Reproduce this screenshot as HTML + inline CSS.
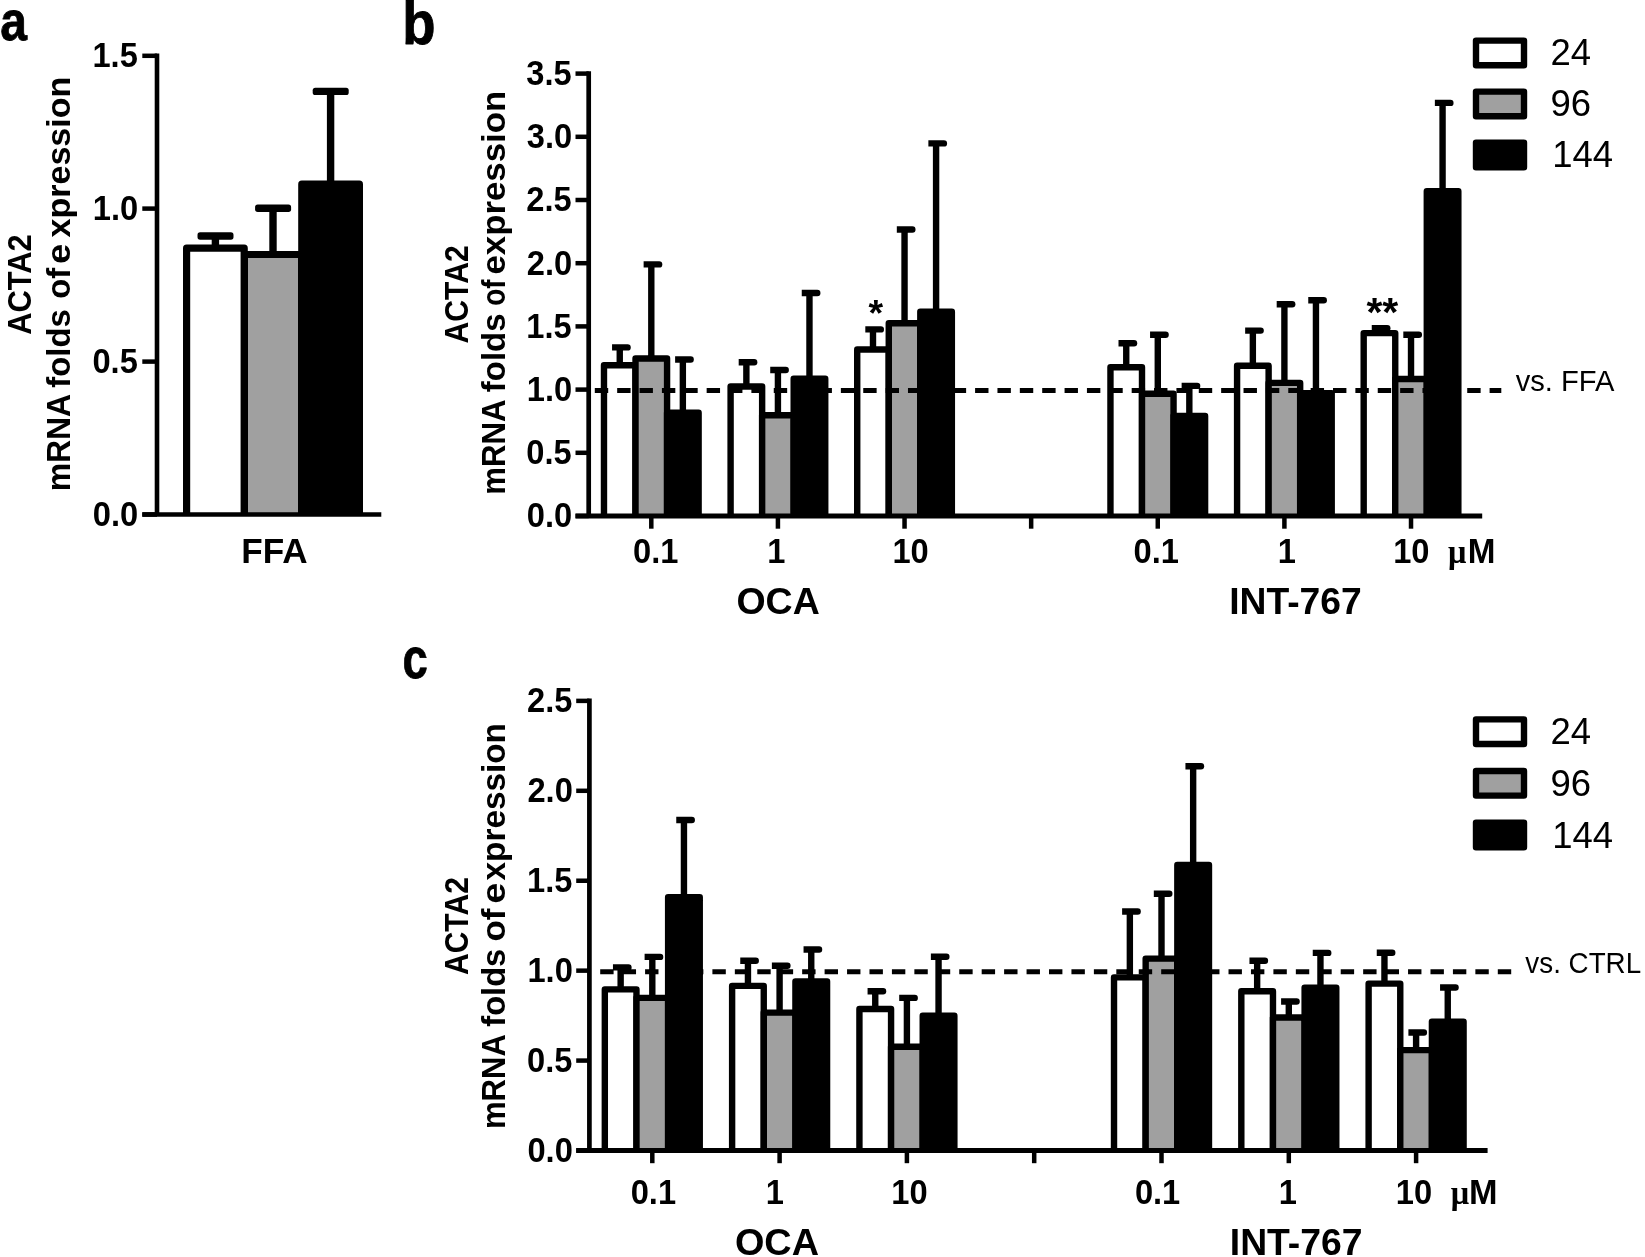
<!DOCTYPE html>
<html lang="en">
<head>
<meta charset="utf-8">
<title>ACTA2 mRNA folds of expression</title>
<style>
html,body{margin:0;padding:0;background:#fff;}
body{width:1645px;height:1257px;overflow:hidden;font-family:'Liberation Sans', Arial, sans-serif;}
svg{display:block;}
text{fill:#000;}
</style>
</head>
<body>
<svg width="1645" height="1257" viewBox="0 0 1645 1257">
<defs><filter id="soft" x="0" y="0" width="1645" height="1257" filterUnits="userSpaceOnUse"><feGaussianBlur stdDeviation="0.6"/></filter></defs>
<rect x="0" y="0" width="1645" height="1257" fill="#fff"/>
<g filter="url(#soft)">
<rect x="0" y="0" width="1645" height="1257" fill="#fff"/>
<g id="panel-a">
<path d="M244.2 514.5V254.5H301.8V514.5" fill="#a0a0a0" stroke="#000" stroke-width="7.2" stroke-linejoin="round"/>
<path d="M186.6 514.5V248.2H244.2V514.5" fill="#fff" stroke="#000" stroke-width="7.2" stroke-linejoin="round"/>
<path d="M301.8 514.5V184.2H359.4V514.5" fill="#000" stroke="#000" stroke-width="7.2" stroke-linejoin="round"/>
<path d="M215.4 245.6V236" stroke="#000" stroke-width="7.4" fill="none"/>
<rect x="197.5" y="232.3" width="36" height="7.4" rx="2.6" fill="#000"/>
<path d="M273 251.9V208.2" stroke="#000" stroke-width="7.4" fill="none"/>
<rect x="255.1" y="204.5" width="36" height="7.4" rx="2.6" fill="#000"/>
<path d="M330.6 181.6V91.4" stroke="#000" stroke-width="7.4" fill="none"/>
<rect x="312.7" y="87.7" width="36" height="7.4" rx="2.6" fill="#000"/>
<path d="M157 53.5V514.5" stroke="#000" stroke-width="4.6" fill="none"/>
<path d="M142.3 514.5H381.3" stroke="#000" stroke-width="4.5" fill="none"/>
<path d="M142.3 514.5H157" stroke="#000" stroke-width="4.5" fill="none"/>
<text transform="translate(92.84 525.8) scale(0.9220 1)" font-size="35.4" font-weight="bold" font-family="'Liberation Sans', Arial, sans-serif">0.0</text>
<path d="M142.3 361.6H157" stroke="#000" stroke-width="4.5" fill="none"/>
<text transform="translate(92.43 372.9) scale(0.9220 1)" font-size="35.4" font-weight="bold" font-family="'Liberation Sans', Arial, sans-serif">0.5</text>
<path d="M142.3 208.6H157" stroke="#000" stroke-width="4.5" fill="none"/>
<text transform="translate(92.84 219.9) scale(0.9220 1)" font-size="35.4" font-weight="bold" font-family="'Liberation Sans', Arial, sans-serif">1.0</text>
<path d="M142.3 55.8H157" stroke="#000" stroke-width="4.5" fill="none"/>
<text transform="translate(92.43 67.1) scale(0.9220 1)" font-size="35.4" font-weight="bold" font-family="'Liberation Sans', Arial, sans-serif">1.5</text>
<text transform="translate(241.23 563.4) scale(0.9792 1)" font-size="35.9" font-weight="bold" font-family="'Liberation Sans', Arial, sans-serif">FFA</text>
<text transform="translate(31.1 334.77) rotate(-90) scale(0.9340 1)" font-size="33" font-weight="bold" font-family="'Liberation Sans', Arial, sans-serif">ACTA2</text>
<text transform="translate(70.4 0) rotate(-90)" font-size="33" font-weight="bold" font-family="'Liberation Sans', Arial, sans-serif"><tspan x="-491.35" textLength="96.34" lengthAdjust="spacingAndGlyphs">mRNA</tspan> <tspan x="-387.78" textLength="78.53" lengthAdjust="spacingAndGlyphs">folds</tspan> <tspan x="-298.81" textLength="30.87" lengthAdjust="spacingAndGlyphs">of</tspan> <tspan x="-264.05" textLength="20.17" lengthAdjust="spacingAndGlyphs">e</tspan><tspan x="-237.46" textLength="160.76" lengthAdjust="spacingAndGlyphs">xpression</tspan></text>
<text transform="translate(0.36 40.2) scale(0.8647 1)" font-size="55.6" font-weight="bold" font-family="'Liberation Sans', Arial, sans-serif" stroke="#000" stroke-width="0.8" stroke-linejoin="round">a</text>
</g>
<g id="panel-b">
<path d="M603.98 516V365.2H635.52V516" fill="#fff" stroke="#000" stroke-width="6.4" stroke-linejoin="round"/>
<path d="M635.52 516V358.5H667.07V516" fill="#a0a0a0" stroke="#000" stroke-width="6.4" stroke-linejoin="round"/>
<path d="M667.07 516V412.8H698.62V516" fill="#000" stroke="#000" stroke-width="6.4" stroke-linejoin="round"/>
<path d="M619.75 363V347.4" stroke="#000" stroke-width="6.4" fill="none"/>
<path d="M612.05 344.2H627.55A3.2 3.2 0 0 1 627.55 350.6H612.05Z" fill="#000"/>
<path d="M651.3 356.3V264.4" stroke="#000" stroke-width="6.4" fill="none"/>
<path d="M643.6 261.2H659.1A3.2 3.2 0 0 1 659.1 267.6H643.6Z" fill="#000"/>
<path d="M682.85 410.6V359.5" stroke="#000" stroke-width="6.4" fill="none"/>
<path d="M675.15 356.3H690.65A3.2 3.2 0 0 1 690.65 362.7H675.15Z" fill="#000"/>
<path d="M730.6 516V386.5H762.14V516" fill="#fff" stroke="#000" stroke-width="6.4" stroke-linejoin="round"/>
<path d="M762.14 516V415.2H793.69V516" fill="#a0a0a0" stroke="#000" stroke-width="6.4" stroke-linejoin="round"/>
<path d="M793.69 516V378.7H825.24V516" fill="#000" stroke="#000" stroke-width="6.4" stroke-linejoin="round"/>
<path d="M746.37 384.3V362.2" stroke="#000" stroke-width="6.4" fill="none"/>
<path d="M738.67 359H754.17A3.2 3.2 0 0 1 754.17 365.4H738.67Z" fill="#000"/>
<path d="M777.92 413V370" stroke="#000" stroke-width="6.4" fill="none"/>
<path d="M770.22 366.8H785.72A3.2 3.2 0 0 1 785.72 373.2H770.22Z" fill="#000"/>
<path d="M809.47 376.5V293" stroke="#000" stroke-width="6.4" fill="none"/>
<path d="M801.77 289.8H817.27A3.2 3.2 0 0 1 817.27 296.2H801.77Z" fill="#000"/>
<path d="M857.22 516V349.5H888.76V516" fill="#fff" stroke="#000" stroke-width="6.4" stroke-linejoin="round"/>
<path d="M888.76 516V323.2H920.31V516" fill="#a0a0a0" stroke="#000" stroke-width="6.4" stroke-linejoin="round"/>
<path d="M920.31 516V311.6H951.86V516" fill="#000" stroke="#000" stroke-width="6.4" stroke-linejoin="round"/>
<path d="M872.99 347.3V329.4" stroke="#000" stroke-width="6.4" fill="none"/>
<path d="M865.29 326.2H880.79A3.2 3.2 0 0 1 880.79 332.6H865.29Z" fill="#000"/>
<path d="M904.54 321V229.5" stroke="#000" stroke-width="6.4" fill="none"/>
<path d="M896.84 226.3H912.34A3.2 3.2 0 0 1 912.34 232.7H896.84Z" fill="#000"/>
<path d="M936.09 309.4V143.4" stroke="#000" stroke-width="6.4" fill="none"/>
<path d="M928.39 140.2H943.89A3.2 3.2 0 0 1 943.89 146.6H928.39Z" fill="#000"/>
<path d="M1110.45 516V367.3H1142V516" fill="#fff" stroke="#000" stroke-width="6.4" stroke-linejoin="round"/>
<path d="M1142 516V393.8H1173.55V516" fill="#a0a0a0" stroke="#000" stroke-width="6.4" stroke-linejoin="round"/>
<path d="M1173.55 516V415.9H1205.1V516" fill="#000" stroke="#000" stroke-width="6.4" stroke-linejoin="round"/>
<path d="M1126.23 365.1V343.2" stroke="#000" stroke-width="6.4" fill="none"/>
<path d="M1118.53 340H1134.03A3.2 3.2 0 0 1 1134.03 346.4H1118.53Z" fill="#000"/>
<path d="M1157.78 391.6V334.8" stroke="#000" stroke-width="6.4" fill="none"/>
<path d="M1150.08 331.6H1165.58A3.2 3.2 0 0 1 1165.58 338H1150.08Z" fill="#000"/>
<path d="M1189.33 413.7V385.9" stroke="#000" stroke-width="6.4" fill="none"/>
<path d="M1181.63 382.7H1197.13A3.2 3.2 0 0 1 1197.13 389.1H1181.63Z" fill="#000"/>
<path d="M1237.08 516V365.8H1268.62V516" fill="#fff" stroke="#000" stroke-width="6.4" stroke-linejoin="round"/>
<path d="M1268.62 516V382.9H1300.17V516" fill="#a0a0a0" stroke="#000" stroke-width="6.4" stroke-linejoin="round"/>
<path d="M1300.17 516V393.3H1331.72V516" fill="#000" stroke="#000" stroke-width="6.4" stroke-linejoin="round"/>
<path d="M1252.85 363.6V330.6" stroke="#000" stroke-width="6.4" fill="none"/>
<path d="M1245.15 327.4H1260.65A3.2 3.2 0 0 1 1260.65 333.8H1245.15Z" fill="#000"/>
<path d="M1284.4 380.7V304.3" stroke="#000" stroke-width="6.4" fill="none"/>
<path d="M1276.7 301.1H1292.2A3.2 3.2 0 0 1 1292.2 307.5H1276.7Z" fill="#000"/>
<path d="M1315.95 391.1V300.2" stroke="#000" stroke-width="6.4" fill="none"/>
<path d="M1308.25 297H1323.75A3.2 3.2 0 0 1 1323.75 303.4H1308.25Z" fill="#000"/>
<path d="M1363.69 516V333.1H1395.24V516" fill="#fff" stroke="#000" stroke-width="6.4" stroke-linejoin="round"/>
<path d="M1395.24 516V379H1426.79V516" fill="#a0a0a0" stroke="#000" stroke-width="6.4" stroke-linejoin="round"/>
<path d="M1426.79 516V191.2H1458.34V516" fill="#000" stroke="#000" stroke-width="6.4" stroke-linejoin="round"/>
<path d="M1379.47 330.9V328.2" stroke="#000" stroke-width="6.4" fill="none"/>
<path d="M1371.77 325H1387.27A3.2 3.2 0 0 1 1387.27 331.4H1371.77Z" fill="#000"/>
<path d="M1411.02 376.8V334.8" stroke="#000" stroke-width="6.4" fill="none"/>
<path d="M1403.32 331.6H1418.82A3.2 3.2 0 0 1 1418.82 338H1403.32Z" fill="#000"/>
<path d="M1442.57 189V102.9" stroke="#000" stroke-width="6.4" fill="none"/>
<path d="M1434.87 99.7H1450.37A3.2 3.2 0 0 1 1450.37 106.1H1434.87Z" fill="#000"/>
<path d="M594.8 390.45H1501.3" stroke="#000" stroke-width="5" stroke-dasharray="13.4 8.97" fill="none"/>
<path d="M588.7 71.25V516" stroke="#000" stroke-width="4.7" fill="none"/>
<path d="M575.5 516H1482.2" stroke="#000" stroke-width="4.8" fill="none"/>
<path d="M575.5 516H588.7" stroke="#000" stroke-width="4.5" fill="none"/>
<text transform="translate(526.74 527.3) scale(0.9220 1)" font-size="35.4" font-weight="bold" font-family="'Liberation Sans', Arial, sans-serif">0.0</text>
<path d="M575.5 452.8H588.7" stroke="#000" stroke-width="4.5" fill="none"/>
<text transform="translate(526.33 464.1) scale(0.9220 1)" font-size="35.4" font-weight="bold" font-family="'Liberation Sans', Arial, sans-serif">0.5</text>
<path d="M575.5 389.6H588.7" stroke="#000" stroke-width="4.5" fill="none"/>
<text transform="translate(526.74 400.9) scale(0.9220 1)" font-size="35.4" font-weight="bold" font-family="'Liberation Sans', Arial, sans-serif">1.0</text>
<path d="M575.5 326.4H588.7" stroke="#000" stroke-width="4.5" fill="none"/>
<text transform="translate(526.33 337.7) scale(0.9220 1)" font-size="35.4" font-weight="bold" font-family="'Liberation Sans', Arial, sans-serif">1.5</text>
<path d="M575.5 263.2H588.7" stroke="#000" stroke-width="4.5" fill="none"/>
<text transform="translate(526.74 274.5) scale(0.9220 1)" font-size="35.4" font-weight="bold" font-family="'Liberation Sans', Arial, sans-serif">2.0</text>
<path d="M575.5 200H588.7" stroke="#000" stroke-width="4.5" fill="none"/>
<text transform="translate(526.33 211.3) scale(0.9220 1)" font-size="35.4" font-weight="bold" font-family="'Liberation Sans', Arial, sans-serif">2.5</text>
<path d="M575.5 136.8H588.7" stroke="#000" stroke-width="4.5" fill="none"/>
<text transform="translate(526.74 148.1) scale(0.9220 1)" font-size="35.4" font-weight="bold" font-family="'Liberation Sans', Arial, sans-serif">3.0</text>
<path d="M575.5 73.6H588.7" stroke="#000" stroke-width="4.5" fill="none"/>
<text transform="translate(526.33 84.9) scale(0.9220 1)" font-size="35.4" font-weight="bold" font-family="'Liberation Sans', Arial, sans-serif">3.5</text>
<path d="M651.3 516V528.7" stroke="#000" stroke-width="4.5" fill="none"/>
<path d="M777.92 516V528.7" stroke="#000" stroke-width="4.5" fill="none"/>
<path d="M904.54 516V528.7" stroke="#000" stroke-width="4.5" fill="none"/>
<path d="M1031.16 516V528.7" stroke="#000" stroke-width="4.5" fill="none"/>
<path d="M1157.78 516V528.7" stroke="#000" stroke-width="4.5" fill="none"/>
<path d="M1284.4 516V528.7" stroke="#000" stroke-width="4.5" fill="none"/>
<path d="M1411.02 516V528.7" stroke="#000" stroke-width="4.5" fill="none"/>
<text transform="translate(633.09 563.1) scale(0.9220 1)" font-size="35.4" font-weight="bold" font-family="'Liberation Sans', Arial, sans-serif">0.1</text>
<text transform="translate(767.26 563.1) scale(0.9220 1)" font-size="35.4" font-weight="bold" font-family="'Liberation Sans', Arial, sans-serif">1</text>
<text transform="translate(892.46 563.1) scale(0.9220 1)" font-size="35.4" font-weight="bold" font-family="'Liberation Sans', Arial, sans-serif">10</text>
<text transform="translate(1133.49 563.1) scale(0.9220 1)" font-size="35.4" font-weight="bold" font-family="'Liberation Sans', Arial, sans-serif">0.1</text>
<text transform="translate(1277.76 563.1) scale(0.9220 1)" font-size="35.4" font-weight="bold" font-family="'Liberation Sans', Arial, sans-serif">1</text>
<text transform="translate(1393.16 563.1) scale(0.9220 1)" font-size="35.4" font-weight="bold" font-family="'Liberation Sans', Arial, sans-serif">10</text>
<text y="563.1" font-weight="bold"><tspan x="1447.89" font-family="'Liberation Serif', 'DejaVu Serif', serif" font-size="33.8" textLength="18.39" lengthAdjust="spacingAndGlyphs">μ</tspan><tspan x="1467.75" font-family="'Liberation Sans', Arial, sans-serif" font-size="35.4" textLength="27.71" lengthAdjust="spacingAndGlyphs">M</tspan></text>
<text transform="translate(736.4 614.1) scale(0.9931 1)" font-size="37.8" font-weight="bold" font-family="'Liberation Sans', Arial, sans-serif">OCA</text>
<text transform="translate(1229.18 614.1) scale(0.9868 1)" font-size="37.8" font-weight="bold" font-family="'Liberation Sans', Arial, sans-serif">INT-767</text>
<rect x="1476" y="40.6" width="48" height="24.6" fill="#fff" stroke="#000" stroke-width="6.4" stroke-linejoin="round"/>
<text transform="translate(1550.48 65.1) scale(0.9730 1)" font-size="37.5" font-weight="normal" font-family="'Liberation Sans', Arial, sans-serif">24</text>
<rect x="1476" y="91.6" width="48" height="24.6" fill="#a0a0a0" stroke="#000" stroke-width="6.4" stroke-linejoin="round"/>
<text transform="translate(1550.57 116.2) scale(0.9730 1)" font-size="37.5" font-weight="normal" font-family="'Liberation Sans', Arial, sans-serif">96</text>
<rect x="1476" y="142.6" width="48" height="24.6" fill="#000" stroke="#000" stroke-width="6.4" stroke-linejoin="round"/>
<text transform="translate(1552.16 166.9) scale(0.9730 1)" font-size="37.5" font-weight="normal" font-family="'Liberation Sans', Arial, sans-serif">144</text>
<text transform="translate(1515.65 390.6) scale(1.0042 1)" font-size="29" font-weight="normal" font-family="'Liberation Sans', Arial, sans-serif">vs. FFA</text>
<text transform="translate(467.9 343.45) rotate(-90) scale(0.9122 1)" font-size="33" font-weight="bold" font-family="'Liberation Sans', Arial, sans-serif">ACTA2</text>
<text transform="translate(505.3 0) rotate(-90)" font-size="33" font-weight="bold" font-family="'Liberation Sans', Arial, sans-serif"><tspan x="-494.7" textLength="93.97" lengthAdjust="spacingAndGlyphs">mRNA</tspan> <tspan x="-392.18" textLength="78.74" lengthAdjust="spacingAndGlyphs">folds</tspan> <tspan x="-305.81" textLength="26.28" lengthAdjust="spacingAndGlyphs">of</tspan> <tspan x="-274.49" textLength="183.7" lengthAdjust="spacingAndGlyphs">expression</tspan></text>
<text transform="translate(402.26 44.4) scale(0.9724 1.08)" font-size="56" font-weight="bold" font-family="'Liberation Sans', Arial, sans-serif" stroke="#000" stroke-width="0.8" stroke-linejoin="round">b</text>
<text transform="translate(868.49 325.9) scale(1.0000 1)" font-size="37.5" font-weight="bold" font-family="'Liberation Sans', Arial, sans-serif">*</text>
<text transform="translate(1366.41 325.6) scale(1.0000 1)" font-size="41" font-weight="bold" font-family="'Liberation Sans', Arial, sans-serif">**</text>
</g>
<g id="panel-c">
<path d="M604.82 1150.5V989.4H636.47V1150.5" fill="#fff" stroke="#000" stroke-width="6.4" stroke-linejoin="round"/>
<path d="M636.47 1150.5V997.9H668.12V1150.5" fill="#a0a0a0" stroke="#000" stroke-width="6.4" stroke-linejoin="round"/>
<path d="M668.12 1150.5V897.3H699.77V1150.5" fill="#000" stroke="#000" stroke-width="6.4" stroke-linejoin="round"/>
<path d="M620.65 987.2V967.4" stroke="#000" stroke-width="6.4" fill="none"/>
<path d="M612.95 964.2H628.45A3.2 3.2 0 0 1 628.45 970.6H612.95Z" fill="#000"/>
<path d="M652.3 995.7V956.9" stroke="#000" stroke-width="6.4" fill="none"/>
<path d="M644.6 953.7H660.1A3.2 3.2 0 0 1 660.1 960.1H644.6Z" fill="#000"/>
<path d="M683.95 895.1V820" stroke="#000" stroke-width="6.4" fill="none"/>
<path d="M676.25 816.8H691.75A3.2 3.2 0 0 1 691.75 823.2H676.25Z" fill="#000"/>
<path d="M732.12 1150.5V985.9H763.77V1150.5" fill="#fff" stroke="#000" stroke-width="6.4" stroke-linejoin="round"/>
<path d="M763.77 1150.5V1012.6H795.42V1150.5" fill="#a0a0a0" stroke="#000" stroke-width="6.4" stroke-linejoin="round"/>
<path d="M795.42 1150.5V981.5H827.07V1150.5" fill="#000" stroke="#000" stroke-width="6.4" stroke-linejoin="round"/>
<path d="M747.95 983.7V960.7" stroke="#000" stroke-width="6.4" fill="none"/>
<path d="M740.25 957.5H755.75A3.2 3.2 0 0 1 755.75 963.9H740.25Z" fill="#000"/>
<path d="M779.6 1010.4V965.8" stroke="#000" stroke-width="6.4" fill="none"/>
<path d="M771.9 962.6H787.4A3.2 3.2 0 0 1 787.4 969H771.9Z" fill="#000"/>
<path d="M811.25 979.3V949.5" stroke="#000" stroke-width="6.4" fill="none"/>
<path d="M803.55 946.3H819.05A3.2 3.2 0 0 1 819.05 952.7H803.55Z" fill="#000"/>
<path d="M859.42 1150.5V1009H891.07V1150.5" fill="#fff" stroke="#000" stroke-width="6.4" stroke-linejoin="round"/>
<path d="M891.07 1150.5V1046.7H922.72V1150.5" fill="#a0a0a0" stroke="#000" stroke-width="6.4" stroke-linejoin="round"/>
<path d="M922.72 1150.5V1015.8H954.37V1150.5" fill="#000" stroke="#000" stroke-width="6.4" stroke-linejoin="round"/>
<path d="M875.25 1006.8V991.2" stroke="#000" stroke-width="6.4" fill="none"/>
<path d="M867.55 988H883.05A3.2 3.2 0 0 1 883.05 994.4H867.55Z" fill="#000"/>
<path d="M906.9 1044.5V997.9" stroke="#000" stroke-width="6.4" fill="none"/>
<path d="M899.2 994.7H914.7A3.2 3.2 0 0 1 914.7 1001.1H899.2Z" fill="#000"/>
<path d="M938.55 1013.6V956.8" stroke="#000" stroke-width="6.4" fill="none"/>
<path d="M930.85 953.6H946.35A3.2 3.2 0 0 1 946.35 960H930.85Z" fill="#000"/>
<path d="M1114.02 1150.5V977.4H1145.67V1150.5" fill="#fff" stroke="#000" stroke-width="6.4" stroke-linejoin="round"/>
<path d="M1145.67 1150.5V958.6H1177.33V1150.5" fill="#a0a0a0" stroke="#000" stroke-width="6.4" stroke-linejoin="round"/>
<path d="M1177.33 1150.5V865H1208.98V1150.5" fill="#000" stroke="#000" stroke-width="6.4" stroke-linejoin="round"/>
<path d="M1129.85 975.2V911.5" stroke="#000" stroke-width="6.4" fill="none"/>
<path d="M1122.15 908.3H1137.65A3.2 3.2 0 0 1 1137.65 914.7H1122.15Z" fill="#000"/>
<path d="M1161.5 956.4V893.7" stroke="#000" stroke-width="6.4" fill="none"/>
<path d="M1153.8 890.5H1169.3A3.2 3.2 0 0 1 1169.3 896.9H1153.8Z" fill="#000"/>
<path d="M1193.15 862.8V766.2" stroke="#000" stroke-width="6.4" fill="none"/>
<path d="M1185.45 763H1200.95A3.2 3.2 0 0 1 1200.95 769.4H1185.45Z" fill="#000"/>
<path d="M1241.32 1150.5V991.2H1272.97V1150.5" fill="#fff" stroke="#000" stroke-width="6.4" stroke-linejoin="round"/>
<path d="M1272.97 1150.5V1017.5H1304.62V1150.5" fill="#a0a0a0" stroke="#000" stroke-width="6.4" stroke-linejoin="round"/>
<path d="M1304.62 1150.5V987.6H1336.28V1150.5" fill="#000" stroke="#000" stroke-width="6.4" stroke-linejoin="round"/>
<path d="M1257.15 989V960.7" stroke="#000" stroke-width="6.4" fill="none"/>
<path d="M1249.45 957.5H1264.95A3.2 3.2 0 0 1 1264.95 963.9H1249.45Z" fill="#000"/>
<path d="M1288.8 1015.3V1001.5" stroke="#000" stroke-width="6.4" fill="none"/>
<path d="M1281.1 998.3H1296.6A3.2 3.2 0 0 1 1296.6 1004.7H1281.1Z" fill="#000"/>
<path d="M1320.45 985.4V952.9" stroke="#000" stroke-width="6.4" fill="none"/>
<path d="M1312.75 949.7H1328.25A3.2 3.2 0 0 1 1328.25 956.1H1312.75Z" fill="#000"/>
<path d="M1368.62 1150.5V983.6H1400.27V1150.5" fill="#fff" stroke="#000" stroke-width="6.4" stroke-linejoin="round"/>
<path d="M1400.27 1150.5V1050.1H1431.92V1150.5" fill="#a0a0a0" stroke="#000" stroke-width="6.4" stroke-linejoin="round"/>
<path d="M1431.92 1150.5V1021.6H1463.58V1150.5" fill="#000" stroke="#000" stroke-width="6.4" stroke-linejoin="round"/>
<path d="M1384.45 981.4V952.7" stroke="#000" stroke-width="6.4" fill="none"/>
<path d="M1376.75 949.5H1392.25A3.2 3.2 0 0 1 1392.25 955.9H1376.75Z" fill="#000"/>
<path d="M1416.1 1047.9V1032.5" stroke="#000" stroke-width="6.4" fill="none"/>
<path d="M1408.4 1029.3H1423.9A3.2 3.2 0 0 1 1423.9 1035.7H1408.4Z" fill="#000"/>
<path d="M1447.75 1019.4V987.5" stroke="#000" stroke-width="6.4" fill="none"/>
<path d="M1440.05 984.3H1455.55A3.2 3.2 0 0 1 1455.55 990.7H1440.05Z" fill="#000"/>
<path d="M600.2 971.7H1511.9" stroke="#000" stroke-width="5" stroke-dasharray="13.4 9.04" fill="none"/>
<path d="M589.4 698.52V1150.5" stroke="#000" stroke-width="4.7" fill="none"/>
<path d="M576.2 1150.5H1487.6" stroke="#000" stroke-width="4.8" fill="none"/>
<path d="M576.2 1150.5H589.4" stroke="#000" stroke-width="4.5" fill="none"/>
<text transform="translate(527.44 1161.8) scale(0.9220 1)" font-size="35.4" font-weight="bold" font-family="'Liberation Sans', Arial, sans-serif">0.0</text>
<path d="M576.2 1060.58H589.4" stroke="#000" stroke-width="4.5" fill="none"/>
<text transform="translate(527.03 1071.88) scale(0.9220 1)" font-size="35.4" font-weight="bold" font-family="'Liberation Sans', Arial, sans-serif">0.5</text>
<path d="M576.2 970.65H589.4" stroke="#000" stroke-width="4.5" fill="none"/>
<text transform="translate(527.44 981.95) scale(0.9220 1)" font-size="35.4" font-weight="bold" font-family="'Liberation Sans', Arial, sans-serif">1.0</text>
<path d="M576.2 880.73H589.4" stroke="#000" stroke-width="4.5" fill="none"/>
<text transform="translate(527.03 892.02) scale(0.9220 1)" font-size="35.4" font-weight="bold" font-family="'Liberation Sans', Arial, sans-serif">1.5</text>
<path d="M576.2 790.8H589.4" stroke="#000" stroke-width="4.5" fill="none"/>
<text transform="translate(527.44 802.1) scale(0.9220 1)" font-size="35.4" font-weight="bold" font-family="'Liberation Sans', Arial, sans-serif">2.0</text>
<path d="M576.2 700.88H589.4" stroke="#000" stroke-width="4.5" fill="none"/>
<text transform="translate(527.03 712.17) scale(0.9220 1)" font-size="35.4" font-weight="bold" font-family="'Liberation Sans', Arial, sans-serif">2.5</text>
<path d="M652.3 1150.5V1163.2" stroke="#000" stroke-width="4.5" fill="none"/>
<path d="M779.6 1150.5V1163.2" stroke="#000" stroke-width="4.5" fill="none"/>
<path d="M906.9 1150.5V1163.2" stroke="#000" stroke-width="4.5" fill="none"/>
<path d="M1034.2 1150.5V1163.2" stroke="#000" stroke-width="4.5" fill="none"/>
<path d="M1161.5 1150.5V1163.2" stroke="#000" stroke-width="4.5" fill="none"/>
<path d="M1288.8 1150.5V1163.2" stroke="#000" stroke-width="4.5" fill="none"/>
<path d="M1416.1 1150.5V1163.2" stroke="#000" stroke-width="4.5" fill="none"/>
<text transform="translate(630.69 1204.3) scale(0.9220 1)" font-size="35.4" font-weight="bold" font-family="'Liberation Sans', Arial, sans-serif">0.1</text>
<text transform="translate(765.66 1204.3) scale(0.9220 1)" font-size="35.4" font-weight="bold" font-family="'Liberation Sans', Arial, sans-serif">1</text>
<text transform="translate(891.36 1204.3) scale(0.9220 1)" font-size="35.4" font-weight="bold" font-family="'Liberation Sans', Arial, sans-serif">10</text>
<text transform="translate(1134.89 1204.3) scale(0.9220 1)" font-size="35.4" font-weight="bold" font-family="'Liberation Sans', Arial, sans-serif">0.1</text>
<text transform="translate(1278.66 1204.3) scale(0.9220 1)" font-size="35.4" font-weight="bold" font-family="'Liberation Sans', Arial, sans-serif">1</text>
<text transform="translate(1395.86 1204.3) scale(0.9220 1)" font-size="35.4" font-weight="bold" font-family="'Liberation Sans', Arial, sans-serif">10</text>
<text y="1204.3" font-weight="bold"><tspan x="1450.69" font-family="'Liberation Serif', 'DejaVu Serif', serif" font-size="33.8" textLength="18.39" lengthAdjust="spacingAndGlyphs">μ</tspan><tspan x="1468.89" font-family="'Liberation Sans', Arial, sans-serif" font-size="35.4" textLength="28.54" lengthAdjust="spacingAndGlyphs">M</tspan></text>
<text transform="translate(734.89 1254.6) scale(1.0017 1)" font-size="37.8" font-weight="bold" font-family="'Liberation Sans', Arial, sans-serif">OCA</text>
<text transform="translate(1229.78 1254.6) scale(0.9883 1)" font-size="37.8" font-weight="bold" font-family="'Liberation Sans', Arial, sans-serif">INT-767</text>
<rect x="1476" y="719.4" width="48" height="24.6" fill="#fff" stroke="#000" stroke-width="6.4" stroke-linejoin="round"/>
<text transform="translate(1550.48 744.3) scale(0.9730 1)" font-size="37.5" font-weight="normal" font-family="'Liberation Sans', Arial, sans-serif">24</text>
<rect x="1476" y="771" width="48" height="24.6" fill="#a0a0a0" stroke="#000" stroke-width="6.4" stroke-linejoin="round"/>
<text transform="translate(1550.57 795.9) scale(0.9730 1)" font-size="37.5" font-weight="normal" font-family="'Liberation Sans', Arial, sans-serif">96</text>
<rect x="1476" y="822.6" width="48" height="24.6" fill="#000" stroke="#000" stroke-width="6.4" stroke-linejoin="round"/>
<text transform="translate(1552.16 847.5) scale(0.9730 1)" font-size="37.5" font-weight="normal" font-family="'Liberation Sans', Arial, sans-serif">144</text>
<text transform="translate(1525.36 973) scale(0.9582 1)" font-size="29" font-weight="normal" font-family="'Liberation Sans', Arial, sans-serif">vs. CTRL</text>
<text transform="translate(467.9 975.05) rotate(-90) scale(0.9103 1)" font-size="33" font-weight="bold" font-family="'Liberation Sans', Arial, sans-serif">ACTA2</text>
<text transform="translate(505.3 0) rotate(-90)" font-size="33" font-weight="bold" font-family="'Liberation Sans', Arial, sans-serif"><tspan x="-1129.09" textLength="93.76" lengthAdjust="spacingAndGlyphs">mRNA</tspan> <tspan x="-1026.67" textLength="77.81" lengthAdjust="spacingAndGlyphs">folds</tspan> <tspan x="-941.49" textLength="32.85" lengthAdjust="spacingAndGlyphs">of</tspan> <tspan x="-903.72" textLength="21.09" lengthAdjust="spacingAndGlyphs">e</tspan><tspan x="-880.45" textLength="157.41" lengthAdjust="spacingAndGlyphs">xpression</tspan></text>
<text transform="translate(402.38 678.4) scale(0.8017 1)" font-size="56.8" font-weight="bold" font-family="'Liberation Sans', Arial, sans-serif" stroke="#000" stroke-width="0.8" stroke-linejoin="round">c</text>
</g>
</g>
</svg>
</body>
</html>
